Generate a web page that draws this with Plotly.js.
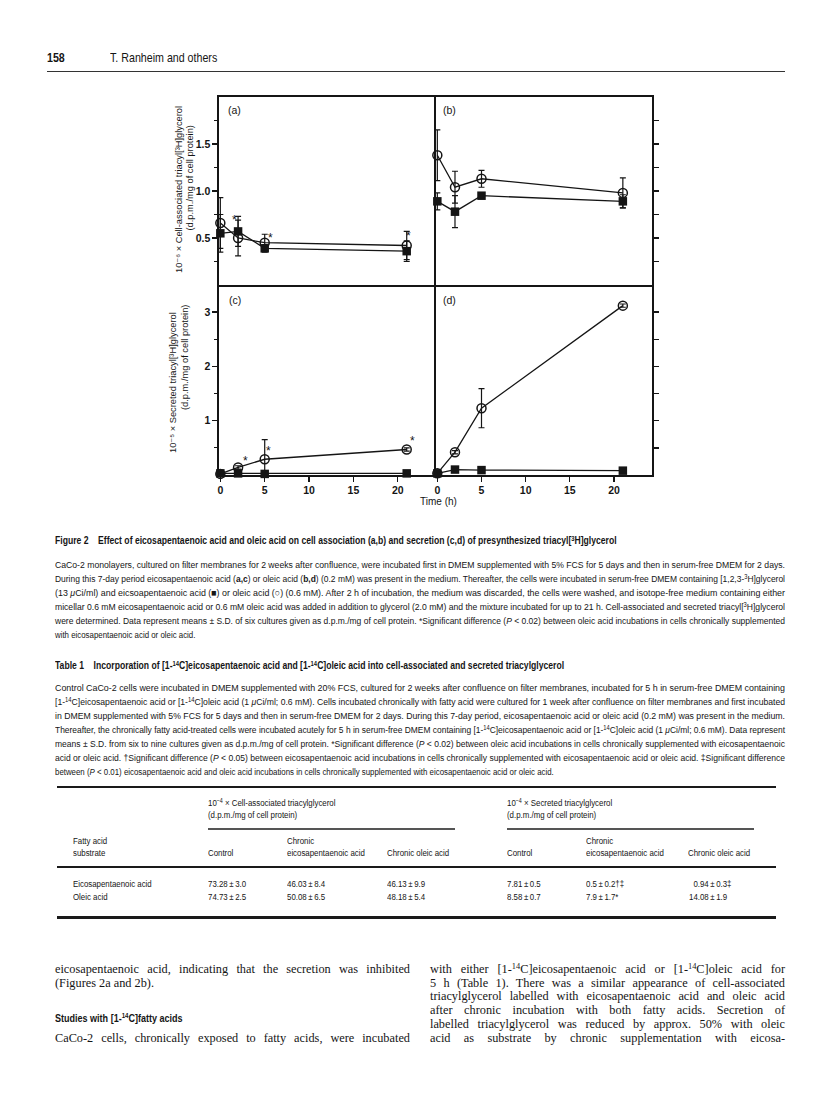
<!DOCTYPE html>
<html><head><meta charset="utf-8">
<script src="https://cdn.plot.ly/plotly-3.0.1.min.js"></script>
<style>
html,body{margin:0;padding:0;background:#fff;}
#page{position:relative;width:816px;height:1093px;overflow:hidden;background:#fff;}
#plot{position:absolute;left:0;top:0;width:816px;height:1093px;}
.t{position:absolute;color:#151515;white-space:nowrap;line-height:1;}
.cond{font-family:"Liberation Sans Narrow","Arial Narrow","Liberation Sans",sans-serif;}
.serif{font-family:"Liberation Serif","Times New Roman",serif;}
.t sup{font-size:0.68em;vertical-align:baseline;position:relative;top:-0.45em;line-height:1;}
.rule{position:absolute;background:#1a1a1a;}
</style></head>
<body><div id="page"><div id="plot"></div></div>
<script>
// ---------------- data ----------------
const hours = [0, 2, 5, 21];
// (a) cell-associated triacyl[3H]glycerol, chronic eicosapentaenoic acid (10^-6 d.p.m./mg)
const cellChrEPA_acuteEPA      = [0.55, 0.57, 0.39, 0.36];
const cellChrEPA_acuteEPA_sd   = [0.20, 0.16, 0.04, 0.11];
const cellChrEPA_acuteOle      = [0.66, 0.50, 0.45, 0.42];
const cellChrEPA_acuteOle_sd   = [0.27, 0.19, 0.09, 0.15];
// (b) cell-associated, chronic oleic acid
const cellChrOle_acuteEPA      = [0.89, 0.78, 0.95, 0.89];
const cellChrOle_acuteEPA_sd   = [0.09, 0.17, 0.02, 0.07];
const cellChrOle_acuteOle      = [1.38, 1.04, 1.13, 0.98];
const cellChrOle_acuteOle_sd   = [0.27, 0.17, 0.09, 0.16];
// (c) secreted triacyl[3H]glycerol, chronic eicosapentaenoic acid (10^-5 d.p.m./mg)
const secChrEPA_acuteEPA       = [0.03, 0.03, 0.02, 0.03];
const secChrEPA_acuteEPA_sd    = [0, 0, 0, 0];
const secChrEPA_acuteOle       = [0.02, 0.14, 0.29, 0.47];
const secChrEPA_acuteOle_sd    = [0, 0.03, 0.36, 0.03];
// (d) secreted, chronic oleic acid
const secChrOle_acuteEPA       = [0.03, 0.10, 0.09, 0.08];
const secChrOle_acuteEPA_sd    = [0, 0, 0, 0];
const secChrOle_acuteOle       = [0.03, 0.42, 1.23, 3.12];
const secChrOle_acuteOle_sd    = [0, 0.03, 0.36, 0.03];
// significance stars: [hours position, value position]
const starsA = [[1.65, 0.695], [5.6, 0.50], [21.15, 0.52]];
const starsC = [[2.78, 0.26], [5.48, 0.44], [21.6, 0.63]];

const xTickVals = [0, 5, 10, 15, 20];
const yTickValsTop = [0.5, 1.0, 1.5];
const yTickTextTop = ['0.5', '1.0', '1.5'];
const yMinorTop = [0.25, 0.75, 1.25, 1.75];
const yTickValsBot = [1, 2, 3];
const yTickTextBot = ['1', '2', '3'];
const yMinorBot = [0.5, 1.5, 2.5];
const yRightTop = [0.25, 0.5, 0.75, 1.0, 1.25, 1.5, 1.75];
const yRightBot = [0.5, 1.0, 1.5, 2.0, 2.5, 3.0];

// Table 1
const tableRows = ['Eicosapentaenoic acid', 'Oleic acid'];
const cellControl = ['73.28\u2009±\u20093.0', '74.73\u2009±\u20092.5'];
const cellChronicEPA = ['46.03\u2009±\u20098.4', '50.08\u2009±\u20096.5'];
const cellChronicOle = ['46.13\u2009±\u20099.9', '48.18\u2009±\u20095.4'];
const secControl = ['7.81\u2009±\u20090.5', '8.58\u2009±\u20090.7'];
const secChronicEPA = ['0.5\u2009±\u20090.2†‡', '7.9\u2009±\u20091.7*'];
const secChronicOle = ['\u20070.94\u2009±\u20090.3‡', '14.08\u2009±\u20091.9'];

// ---------------- helpers ----------------
const W = 816, H = 1093;
const px = x => x / W, py = y => 1 - y / H;
const XR = [-0.15, 24.3];
const INK = '#151515';

function fontAvail(f){
  const c=document.createElement('canvas').getContext('2d');
  const s='abcdefghijklmnopqrstuvwxyz ABCDEFG 0123';
  c.font='40px "'+f+'", monospace'; const a=c.measureText(s).width;
  c.font='40px monospace'; const b=c.measureText(s).width;
  return Math.abs(a-b)>1;
}
const NARROW = fontAvail('Liberation Sans Narrow');

// ---------------- chart ----------------
const base = {showline:true, linecolor:INK, linewidth:1.6, zeroline:false, showgrid:false, fixedrange:true};
const tickFont = {family:'Liberation Sans, Arial, sans-serif', size:10.5, color:INK, weight:'bold'};

function pair(xa, ya, epa, epaSd, ole, oleSd){
  const eb = sd => ({type:'data', array:sd, visible:true, color:INK, thickness:1.2, width:3});
  return [
    {x:hours, y:epa, xaxis:xa, yaxis:ya, mode:'lines+markers', cliponaxis:false, error_y:eb(epaSd),
     line:{color:INK, width:1.3}, marker:{symbol:'square', size:8.5, color:INK}},
    {x:hours, y:ole, xaxis:xa, yaxis:ya, mode:'lines+markers', cliponaxis:false, error_y:eb(oleSd),
     line:{color:INK, width:1.3}, marker:{symbol:'circle-open', size:9, color:INK, line:{width:1.5, color:INK}}}
  ];
}
const data = [].concat(
  pair('x','y', cellChrEPA_acuteEPA, cellChrEPA_acuteEPA_sd, cellChrEPA_acuteOle, cellChrEPA_acuteOle_sd),
  pair('x2','y2', cellChrOle_acuteEPA, cellChrOle_acuteEPA_sd, cellChrOle_acuteOle, cellChrOle_acuteOle_sd),
  pair('x3','y3', secChrEPA_acuteEPA, secChrEPA_acuteEPA_sd, secChrEPA_acuteOle, secChrEPA_acuteOle_sd),
  pair('x4','y4', secChrOle_acuteEPA, secChrOle_acuteEPA_sd, secChrOle_acuteOle, secChrOle_acuteOle_sd)
);

const leftDom = [px(219), px(436)], rightDom = [px(436), px(652)];
const topDom = [py(285), py(97)], botDom = [py(475), py(285)];
const noTicks = {ticks:'', showticklabels:false};
const yLeftTop = {ticks:'outside', ticklen:5, tickwidth:1.3, tickcolor:INK, tickvals:yTickValsTop, ticktext:yTickTextTop, tickfont:tickFont,
  minor:{tickvals:yMinorTop, ticks:'outside', ticklen:3, tickwidth:1.2, tickcolor:INK}};
const yLeftBot = {ticks:'outside', ticklen:5, tickwidth:1.3, tickcolor:INK, tickvals:yTickValsBot, ticktext:yTickTextBot, tickfont:tickFont,
  minor:{tickvals:yMinorBot, ticks:'outside', ticklen:3, tickwidth:1.2, tickcolor:INK}};
const xBottom = {ticks:'outside', ticklen:5, tickwidth:1.3, tickcolor:INK, tickvals:xTickVals, tickfont:tickFont};

const titleFont = {family:'Liberation Sans, DejaVu Sans, Arial, sans-serif', size:9.3, color:INK};
const ann = [];
function pAnn(text, x, y, opt){ ann.push(Object.assign({text:text, x:px(x), y:py(y), xref:'paper', yref:'paper', showarrow:false, xanchor:'center', yanchor:'middle', font:{family:'Liberation Sans, Arial, sans-serif', size:10.5, color:INK}}, opt||{})); }
pAnn('(a)', 235, 110); pAnn('(b)', 449, 110); pAnn('(c)', 235, 300); pAnn('(d)', 449, 300);
pAnn('Time (h)', 438, 501, {font:{family:'Liberation Sans, Arial, sans-serif', size:10, color:INK}});
pAnn('10\u207B\u2076 × Cell-associated triacyl[\u00B3H]glycerol', 179, 190, {textangle:-90, font:titleFont});
pAnn('(d.p.m./mg of cell protein)', 189.5, 178, {textangle:-90, font:titleFont});
pAnn('10\u207B\u2075 × Secreted triacyl[\u00B3H]glycerol', 173, 383, {textangle:-90, font:titleFont});
pAnn('(d.p.m./mg of cell protein)', 185, 358, {textangle:-90, font:titleFont});
starsA.forEach(s => ann.push({text:'*', x:s[0], y:s[1], xref:'x', yref:'y', showarrow:false, font:{family:'Liberation Sans, Arial, sans-serif', size:12, color:INK}}));
starsC.forEach(s => ann.push({text:'*', x:s[0], y:s[1], xref:'x3', yref:'y3', showarrow:false, font:{family:'Liberation Sans, Arial, sans-serif', size:12, color:INK}}));

const layout = {
  width:W, height:H, margin:{l:0, r:0, t:0, b:0},
  paper_bgcolor:'rgba(0,0,0,0)', plot_bgcolor:'rgba(0,0,0,0)', showlegend:false,
  font:{family:'Liberation Sans, Arial, sans-serif', color:INK},
  xaxis:Object.assign({}, base, noTicks, {domain:leftDom, range:XR, anchor:'y', mirror:true}),
  yaxis:Object.assign({}, base, yLeftTop, {domain:topDom, range:[0,2], anchor:'x', mirror:false}),
  xaxis2:Object.assign({}, base, noTicks, {domain:rightDom, range:XR, anchor:'y2', mirror:true}),
  yaxis2:Object.assign({}, base, {domain:topDom, range:[0,2], anchor:'x2', side:'right', mirror:true, ticks:'outside', ticklen:5, tickwidth:1.3, tickcolor:INK, tickvals:yRightTop, showticklabels:false}),
  xaxis3:Object.assign({}, base, xBottom, {domain:leftDom, range:XR, anchor:'y3', mirror:false}),
  yaxis3:Object.assign({}, base, yLeftBot, {domain:botDom, range:[0,3.5], anchor:'x3', mirror:false}),
  xaxis4:Object.assign({}, base, xBottom, {domain:rightDom, range:XR, anchor:'y4', mirror:false}),
  yaxis4:Object.assign({}, base, {domain:botDom, range:[0,3.5], anchor:'x4', side:'right', mirror:true, ticks:'outside', ticklen:5, tickwidth:1.3, tickcolor:INK, tickvals:yRightBot, showticklabels:false}),
  annotations:ann
};
Plotly.newPlot('plot', data, layout, {staticPlot:true, displayModeBar:false}).then(gd => {
  gd.querySelectorAll('text').forEach(t => { if (!t.textContent.replace(/[\s\u200b]/g,'')) t.remove(); });
});

// ---------------- page text ----------------
const page = document.getElementById('page');
function addLine(html, x, yc, size, cls, opts){
  opts = opts || {};
  const d = document.createElement('div');
  d.className = 't ' + cls;
  d.style.left = x + 'px';
  d.style.top = (yc - size*0.5) + 'px';
  d.style.fontSize = size + 'px';
  if (opts.bold) d.style.fontWeight = 'bold';
  d.innerHTML = html;
  page.appendChild(d);
  const condFallback = cls.indexOf('cond') >= 0 && !NARROW;
  if (opts.width){
    const nat = d.getBoundingClientRect().width;
    if (nat < opts.width - 0.5){
      d.style.whiteSpace = 'normal'; d.style.width = opts.width + 'px';
      d.style.textAlign = 'justify'; d.style.textAlignLast = 'justify';
    } else {
      d.style.transformOrigin = '0 50%'; d.style.transform = 'scaleX(' + (opts.width/nat) + ')';
    }
  } else if (condFallback){
    d.style.transformOrigin = '0 50%'; d.style.transform = 'scaleX(0.82)';
  }
  return d;
}
function rule(x1, x2, y, th, col){
  const r = document.createElement('div'); r.className = 'rule';
  r.style.left = x1 + 'px'; r.style.width = (x2 - x1) + 'px';
  r.style.top = (y - th/2) + 'px'; r.style.height = th + 'px';
  if (col) r.style.background = col;
  page.appendChild(r);
}

// running head
addLine('158', 47, 57, 13, 'cond', {bold:true});
addLine('T. Ranheim and others', 110, 57, 13, 'cond');
rule(47, 785, 71.5, 1.5, '#333');

// figure caption
addLine('Figure 2&nbsp;&nbsp;&nbsp; Effect of eicosapentaenoic acid and oleic acid on cell association (a,b) and secretion (c,d) of presynthesized triacyl[<sup>3</sup>H]glycerol', 55, 540, 10.5, 'cond', {bold:true});
const figCaption = [
  'CaCo-2 monolayers, cultured on filter membranes for 2 weeks after confluence, were incubated first in DMEM supplemented with 5% FCS for 5 days and then in serum-free DMEM for 2 days.',
  'During this 7-day period eicosapentaenoic acid (<b>a,c</b>) or oleic acid (<b>b,d</b>) (0.2 mM) was present in the medium. Thereafter, the cells were incubated in serum-free DMEM containing [1,2,3-<sup>3</sup>H]glycerol',
  '(13 <i>μ</i>Ci/ml) and eicsoapentaenoic acid (■) or oleic acid (○) (0.6 mM). After 2 h of incubation, the medium was discarded, the cells were washed, and isotope-free medium containing either',
  'micellar 0.6 mM eicosapentaenoic acid or 0.6 mM oleic acid was added in addition to glycerol (2.0 mM) and the mixture incubated for up to 21 h. Cell-associated and secreted triacyl[<sup>3</sup>H]glycerol',
  'were determined. Data represent means ± S.D. of six cultures given as d.p.m./mg of cell protein. *Significant difference (<i>P</i> &lt; 0.02) between oleic acid incubations in cells chronically supplemented',
  'with eicosapentaenoic acid or oleic acid.'
];
figCaption.forEach((l, i) => addLine(l, 55, 565 + 14*i, 9.6, 'cond', i < figCaption.length-1 ? {width:730} : {}));

// table caption
addLine('Table 1&nbsp;&nbsp;&nbsp; Incorporation of [1-<sup>14</sup>C]eicosapentaenoic acid and [1-<sup>14</sup>C]oleic acid into cell-associated and secreted triacylglycerol', 55, 665, 10.5, 'cond', {bold:true});
const tabCaption = [
  'Control CaCo-2 cells were incubated in DMEM supplemented with 20% FCS, cultured for 2 weeks after confluence on filter membranes, incubated for 5 h in serum-free DMEM containing',
  '[1-<sup>14</sup>C]eicosapentaenoic acid or [1-<sup>14</sup>C]oleic acid (1 <i>μ</i>Ci/ml; 0.6 mM). Cells incubated chronically with fatty acid were cultured for 1 week after confluence on filter membranes and first incubated',
  'in DMEM supplemented with 5% FCS for 5 days and then in serum-free DMEM for 2 days. During this 7-day period, eicosapentaenoic acid or oleic acid (0.2 mM) was present in the medium.',
  'Thereafter, the chronically fatty acid-treated cells were incubated acutely for 5 h in serum-free DMEM containing [1-<sup>14</sup>C]eicosapentaenoic acid or [1-<sup>14</sup>C]oleic acid (1 <i>μ</i>Ci/ml; 0.6 mM). Data represent',
  'means ± S.D. from six to nine cultures given as d.p.m./mg of cell protein. *Significant difference (<i>P</i> &lt; 0.02) between oleic acid incubations in cells chronically supplemented with eicosapentaenoic',
  'acid or oleic acid. †Significant difference (<i>P</i> &lt; 0.05) between eicosapentaenoic acid incubations in cells chronically supplemented with eicosapentaenoic acid or oleic acid. ‡Significant difference',
  'between (<i>P</i> &lt; 0.01) eicosapentaenoic acid and oleic acid incubations in cells chronically supplemented with eicosapentaenoic acid or oleic acid.'
];
tabCaption.forEach((l, i) => addLine(l, 55, 688 + 14*i, 9.6, 'cond', i < tabCaption.length-1 ? {width:730} : {}));

// table
rule(57, 776, 787, 2.6);
addLine('10<sup>−4</sup> × Cell-associated triacylglycerol', 208, 803, 9.6, 'cond');
addLine('(d.p.m./mg of cell protein)', 208, 815, 9.6, 'cond');
addLine('10<sup>−4</sup> × Secreted triacylglycerol', 507, 803, 9.6, 'cond');
addLine('(d.p.m./mg of cell protein)', 507, 815, 9.6, 'cond');
rule(208, 455, 829, 1.5, '#555');
rule(507, 754, 829, 1.5, '#555');
addLine('Fatty acid', 73, 841, 9.6, 'cond');
addLine('substrate', 73, 853, 9.6, 'cond');
addLine('Control', 208, 853, 9.6, 'cond');
addLine('Chronic', 287, 841, 9.6, 'cond');
addLine('eicosapentaenoic acid', 287, 853, 9.6, 'cond');
addLine('Chronic oleic acid', 387, 853, 9.6, 'cond');
addLine('Control', 507, 853, 9.6, 'cond');
addLine('Chronic', 586, 841, 9.6, 'cond');
addLine('eicosapentaenoic acid', 586, 853, 9.6, 'cond');
addLine('Chronic oleic acid', 688, 853, 9.6, 'cond');
rule(57, 776, 867, 1.6);
const colX = [208, 287, 387, 507, 586, 689];
const cols = [cellControl, cellChronicEPA, cellChronicOle, secControl, secChronicEPA, secChronicOle];
tableRows.forEach((r, i) => {
  const y = 884 + 12.5*i;
  addLine(r, 73, y, 9.6, 'cond');
  cols.forEach((c, j) => addLine(c[i], colX[j], y, 9.6, 'cond'));
});
rule(57, 776, 917, 3);

// body text
const bodyLeft = [
  ['eicosapentaenoic acid, indicating that the secretion was inhibited', 969, true],
  ['(Figures 2a and 2b).', 982.8, false],
  ['CaCo-2 cells, chronically exposed to fatty acids, were incubated', 1038, true]
];
bodyLeft.forEach(b => addLine(b[0], 55, b[1], 12.3, 'serif', b[2] ? {width:355} : {}));
addLine('Studies with [1-<sup>14</sup>C]fatty acids', 55, 1018, 11, 'cond', {bold:true});
const bodyRight = [
  'with either [1-<sup>14</sup>C]eicosapentaenoic acid or [1-<sup>14</sup>C]oleic acid for',
  '5 h (Table 1). There was a similar appearance of cell-associated',
  'triacylglycerol labelled with eicosapentaenoic acid and oleic acid',
  'after chronic incubation with both fatty acids. Secretion of',
  'labelled triacylglycerol was reduced by approx. 50% with oleic',
  'acid as substrate by chronic supplementation with eicosa-'
];
bodyRight.forEach((l, i) => addLine(l, 430, 969 + 13.8*i, 12.3, 'serif', {width:355}));
</script>
</body></html>
